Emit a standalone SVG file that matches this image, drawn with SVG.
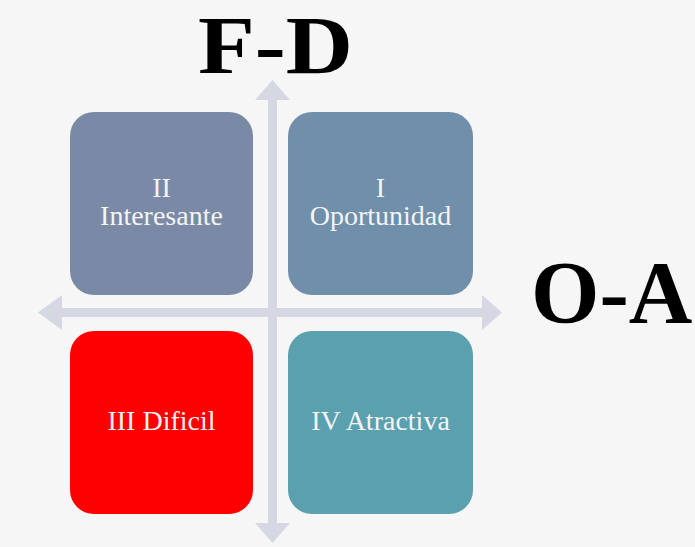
<svg xmlns="http://www.w3.org/2000/svg" width="695" height="547" viewBox="0 0 695 547">
  <style>
    .box-label { font-family: "Liberation Serif", "DejaVu Serif", serif; font-size: 28px; fill: #f4f4f4; text-anchor: middle; }
    .axis-title { font-family: "Liberation Serif", "DejaVu Serif", serif; font-weight: bold; fill: #000; }
    .arrow { fill: #d5d8e2; }
  </style>
  <rect x="0" y="0" width="695" height="547" fill="#f6f6f6"/>
  <g id="connectors">
    <path class="arrow" d="M268,100 L255,100 L272.5,80 L290,100 L277,100 L277,523 L290,523 L272.5,543 L255,523 L268,523 Z"/>
    <path class="arrow" d="M62,308 L62,295 L38,312.5 L62,330 L62,317 L482,317 L482,330 L502,312.5 L482,295 L482,308 Z"/>
  </g>
  <g id="title-fd"><text class="axis-title" x="198" y="73" font-size="83" textLength="155" lengthAdjust="spacingAndGlyphs">F-D</text></g>
  <g id="title-oa"><text class="axis-title" x="531" y="322" font-size="88">O-A</text></g>
  <g id="node-ii">
    <rect x="70" y="112" width="183" height="183" rx="24" fill="#7a8aa6"/>
    <text class="box-label" x="161.5" y="197">II</text>
    <text class="box-label" x="161.5" y="225">Interesante</text>
  </g>
  <g id="node-i">
    <rect x="288" y="112" width="185" height="183" rx="24" fill="#6f8fab"/>
    <text class="box-label" x="380.5" y="197">I</text>
    <text class="box-label" x="380.5" y="225">Oportunidad</text>
  </g>
  <g id="node-iii">
    <rect x="70" y="331" width="183" height="183" rx="24" fill="#ff0000"/>
    <text class="box-label" x="161.5" y="430">III Dificil</text>
  </g>
  <g id="node-iv">
    <rect x="288" y="331" width="185" height="183" rx="24" fill="#5aa0ae"/>
    <text class="box-label" x="380.5" y="430">IV Atractiva</text>
  </g>
</svg>
